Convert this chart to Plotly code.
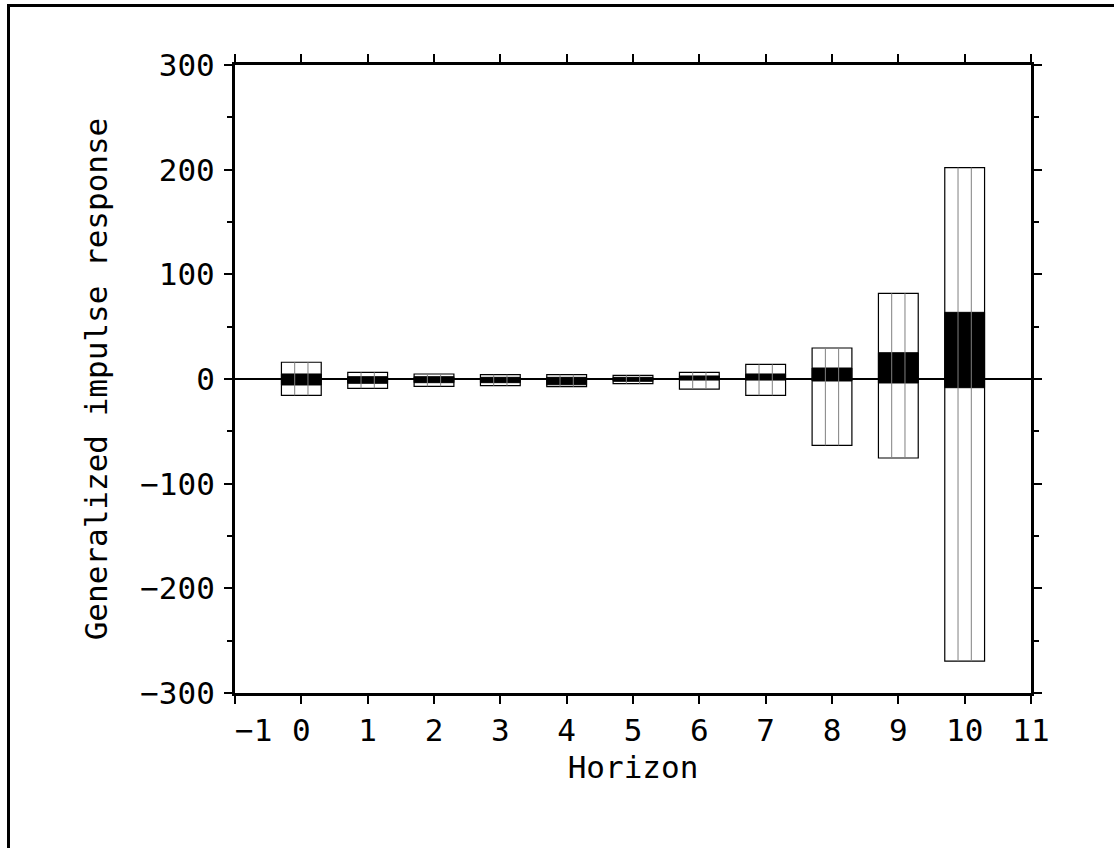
import plotly.graph_objects as go

horizons = [0, 1, 2, 3, 4, 5, 6, 7, 8, 9, 10]
outer_high = [16, 6.4, 4.8, 4.1, 4.1, 3.5, 6.4, 14, 29.6, 81.9, 202]
outer_low = [-15.6, -8.9, -7, -6.4, -7.3, -4.5, -9.6, -15.6, -63.4, -75.5, -269.6]
inner_high = [4.8, 2.2, 2.2, 1.6, 1.6, 1.6, 2.9, 4.8, 10.5, 25.1, 63.7]
inner_low = [-5.7, -4.1, -3.5, -3.5, -5.5, -2.2, -1, -1, -1.9, -3.8, -8.3]

x_tickvals = list(range(-1, 12))
x_ticktext = ["\u00a0\u00a0\u22121"] + [str(v) for v in range(0, 12)]
y_tickvals = [-300, -200, -100, 0, 100, 200, 300]
y_ticktext = ["\u2212300", "\u2212200", "\u2212100", "0", "100", "200", "300"]

BOX_W = 0.6
FONT = "DejaVu Sans Mono"

fig = go.Figure()

fig.add_trace(go.Bar(
    x=horizons,
    y=[h - l for h, l in zip(outer_high, outer_low)],
    base=outer_low,
    width=BOX_W,
    marker=dict(color="white", line=dict(color="black", width=1.2)),
    showlegend=False,
    hoverinfo="skip",
))

# interior vertical dividers of each box
lx, ly = [], []
for h, lo, hi in zip(horizons, outer_low, outer_high):
    for off in (-BOX_W / 6, BOX_W / 6):
        lx += [h + off, h + off, None]
        ly += [lo, hi, None]
fig.add_trace(go.Scatter(
    x=lx, y=ly, mode="lines",
    line=dict(color="#808080", width=1),
    showlegend=False, hoverinfo="skip",
))

fig.add_trace(go.Bar(
    x=horizons,
    y=[h - l for h, l in zip(inner_high, inner_low)],
    base=inner_low,
    width=BOX_W,
    marker=dict(color="black", line=dict(color="black", width=1)),
    showlegend=False,
    hoverinfo="skip",
))

axis_common = dict(
    showgrid=False,
    showline=True,
    linecolor="black",
    linewidth=3,
    mirror="allticks",
    ticks="outside",
    ticklen=8,
    tickwidth=1.5,
    tickcolor="black",
    tickfont=dict(family=FONT, size=31, color="black"),
)

fig.update_xaxes(
    **axis_common,
    range=[-1, 11],
    tickmode="array",
    tickvals=x_tickvals,
    ticktext=x_ticktext,
    zeroline=False,
    ticklabelstandoff=0,
    title=dict(text="Horizon", font=dict(family=FONT, size=31, color="black"), standoff=10),
)
fig.update_yaxes(
    **axis_common,
    range=[-300, 300],
    tickmode="array",
    tickvals=y_tickvals,
    ticktext=y_ticktext,
    zeroline=True,
    zerolinecolor="black",
    zerolinewidth=1.5,
    ticklabelstandoff=3,
    minor=dict(ticks="outside", ticklen=5, dtick=50, tickwidth=1.5, tickcolor="black"),
    title=dict(text="Generalized impulse response", font=dict(family=FONT, size=31, color="black"), standoff=24),
)

# outer frame around the figure
fig.add_shape(
    type="rect", xref="paper", yref="paper",
    x0=(8.5 - 235) / 796, x1=2.0,
    y0=-2.0, y1=(693 - 5.5) / 628,
    line=dict(color="black", width=3),
    fillcolor="rgba(0,0,0,0)",
    layer="below",
)

fig.update_layout(
    width=1114,
    height=848,
    margin=dict(l=235, r=83, t=65, b=155),
    paper_bgcolor="white",
    plot_bgcolor="white",
    barmode="overlay",
    font=dict(family=FONT, color="black"),
)

fig.write_html("out.html")
